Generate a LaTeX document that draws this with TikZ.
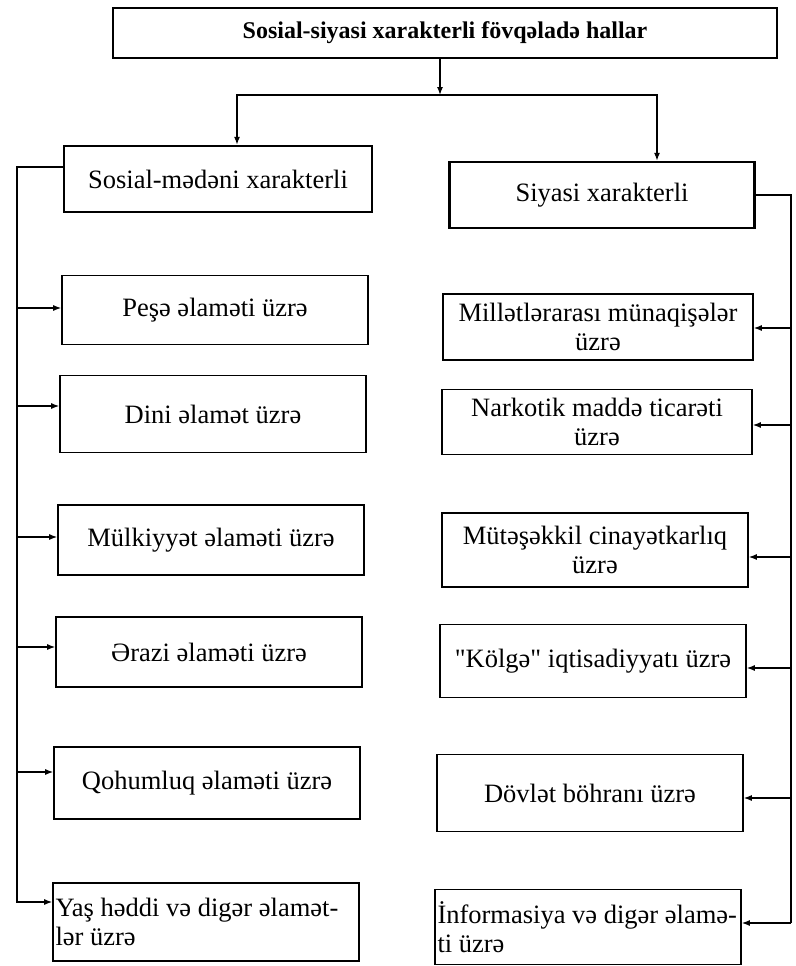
\documentclass[tikz,border=0pt]{standalone}
\usepackage{fontspec}
\setmainfont{Liberation Serif}
\usetikzlibrary{arrows.meta}

\tikzset{
  box/.style={draw, line width=1.6pt, minimum width=306pt, minimum height=68pt,
    inner sep=2pt, align=center, font=\fontsize{26.5}{29}\selectfont},
  headbox/.style={box, line width=2.4pt},
  link/.style={line width=1.3pt},
}

\begin{document}
\begin{tikzpicture}[x=1pt, y=-1pt, >={Latex[length=8pt,width=6pt]}]
        \useasboundingbox (0,0) rectangle (795,966);

        % Title
        \node [headbox, minimum width=664pt, minimum height=50pt,
          font=\bfseries\fontsize{24}{28}\selectfont] (title) at (445,33)
          {Sosial-siyasi xarakterli fövqəladə hallar};

        % Two groups
        \node [headbox, minimum width=308pt, minimum height=66pt] (social) at (218,179) {Sosial-mədəni xarakterli};
        \node [headbox, minimum width=305pt, minimum height=66pt] (political) at (602,195) {Siyasi xarakterli};

        \coordinate (split) at (440,95);
        \draw [link, ->] (title.south -| split) -- (split);
        \draw [link, ->] (split) -| ([xshift=19pt]social.north);
        \draw [link, ->] (split) -| ([xshift=55pt]political.north);

        % Left column
        \node [box, minimum height=69pt] (peshe) at (215,310) {Peşə əlaməti üzrə};
        \node [box, minimum height=77pt] (dini) at (213,414) {Dini əlamət üzrə};
        \node [box, minimum height=70pt] (mulk) at (211,540) {Mülkiyyət əlaməti üzrə};
        \node [box, minimum height=70pt] (erazi) at (209,652) {Ərazi əlaməti üzrə};
        \node [box, minimum height=72pt] (qohum) at (207,783) {Qohumluq əlaməti üzrə};
        \node [box, minimum height=78pt, align=flush left, text width=301pt] (yas) at (206,922)
          {Yaş həddi və digər əlamət-\\lər üzrə};

        \coordinate (ltop) at (17,167);
        \coordinate (lend) at (17,902);
        \draw [link, ->] ([yshift=12pt]social.west) -- (ltop) -- (lend) -- ([yshift=20pt]yas.west);
        \foreach \n/\s in {peshe/2, dini/8, mulk/3, erazi/5, qohum/11}
          \draw [link, ->] ([yshift=\s pt]\n.west -| ltop) -- ([yshift=\s pt]\n.west);

        % Right column
        \node [box, minimum width=310pt, minimum height=66pt] (millet) at (598,327) {Millətlərarası münaqişələr\\üzrə};
        \node [box, minimum width=310pt, minimum height=65pt] (narko) at (597,422) {Narkotik maddə ticarəti\\üzrə};
        \node [box, minimum height=74pt] (mutes) at (595,550) {Mütəşəkkil cinayətkarlıq\\üzrə};
        \node [box, minimum height=73pt] (kolge) at (593,661) {\textquotedbl Kölgə\textquotedbl{} iqtisadiyyatı üzrə};
        \node [box, minimum height=77pt] (dovlet) at (590,793) {Dövlət böhranı üzrə};
        \node [box, minimum height=75pt, align=flush left, text width=301pt] (info) at (588,927)
          {İnformasiya və digər əlamə-\\ti üzrə};

        \coordinate (rtop) at (791,195);
        \coordinate (rend) at (791,923);
        \draw [link] (political.east) -- (rtop) -- (rend);
        \foreach \n/\s in {millet/-1, narko/-3, mutes/-7, kolge/-7, dovlet/-5, info/4}
          \draw [link, ->] ([yshift=\s pt]\n.east -| rtop) -- ([yshift=\s pt]\n.east);

\end{tikzpicture}
\end{document}
